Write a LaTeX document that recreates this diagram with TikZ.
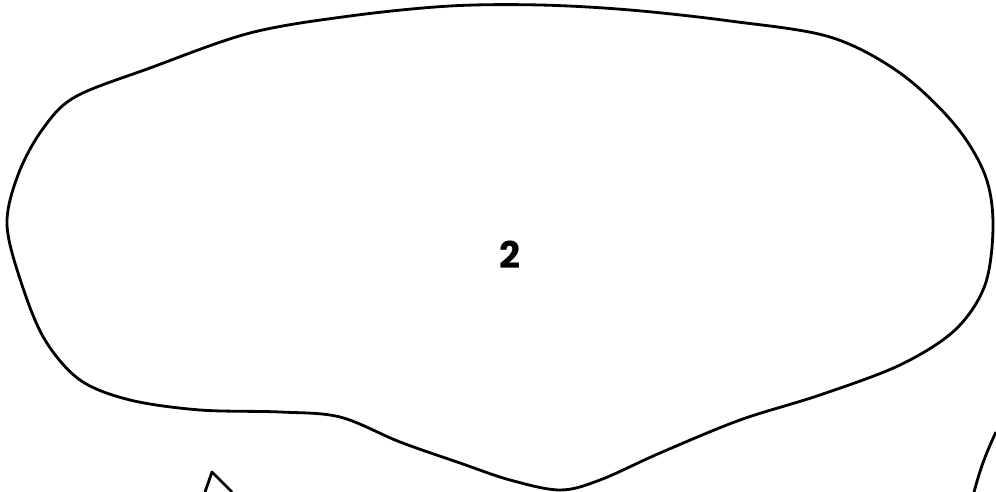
\documentclass[tikz,border=0pt]{standalone}
\usepackage{fontspec}
\setsansfont{Poppins}
\usetikzlibrary{positioning}

\begin{document}
\begin{tikzpicture}[
	x=0.02cm, y=-0.02cm,
	outline/.style={draw, line width=1.6pt, line join=round},
	label_text/.style={font=\sffamily\bfseries\fontsize{21}{24}\selectfont, inner sep=0pt}
	]
	\useasboundingbox (0,0) rectangle (996,492);
	
	% --- contorno da região ---
	\draw[outline] plot[smooth cycle, tension=0.55] coordinates {
		(75,97) (150,68) (250,33) (350,16) (450,6) (540,5) (630,10)
		(730,21) (830,37) (900,73) (955,125) (985,175) (993,225)
		(985,285) (955,330) (900,365) (820,395) (740,420) (660,453)
		(600,480) (560,490) (510,480) (460,463) (400,442) (340,417)
		(280,412) (200,410) (130,400) (80,380) (45,340) (22,285)
		(7,225) (18,175) (42,130)
	};
	
	\node[label_text] (R2) at (510,255) {2};
	
	% --- regiões vizinhas (cortadas) ---
	\coordinate (P1) at (205,492);
	\coordinate (P2) at (212,472);
	\coordinate (P3) at (232,492);
	\draw[outline] (P1) -- (P2) -- (P3);
	
	\coordinate (Q1) at (996,432);
	\coordinate (Q2) at (974,492);
	\draw[outline] (Q1) to[bend right=5] (Q2);
	
\end{tikzpicture}
\end{document}
